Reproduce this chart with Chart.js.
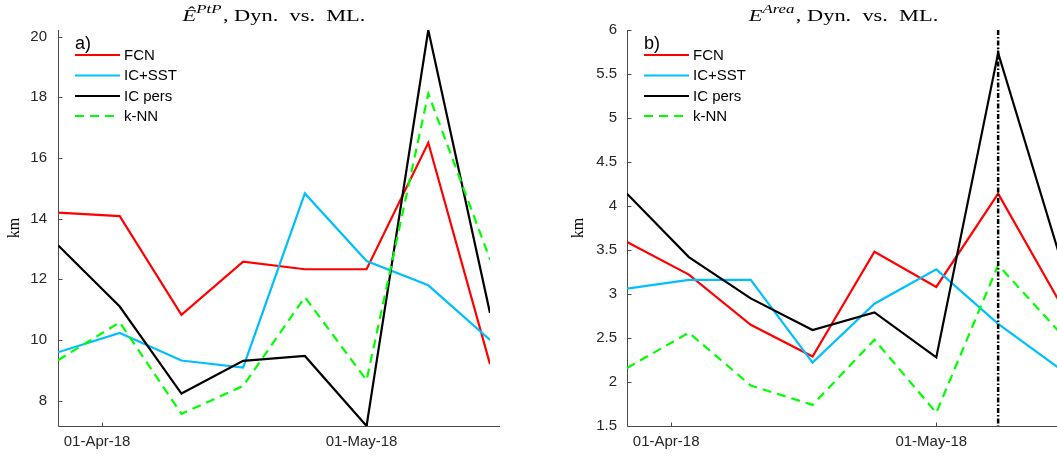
<!DOCTYPE html>
<html><head><meta charset="utf-8">
<script src="https://cdn.jsdelivr.net/npm/chart.js@4.4.1/dist/chart.umd.min.js"></script>
<style>
html,body{margin:0;padding:0;width:1057px;height:457px;overflow:hidden;background:#fff;}
#wrap{position:relative;width:1057px;height:457px;overflow:hidden;}
canvas{position:absolute;top:0;}
#ca{left:0}
#cb{left:537px}
</style></head><body>
<div id="wrap"><canvas id="ca" width="520" height="457"></canvas><canvas id="cb" width="530" height="457"></canvas></div>
<script>
// ---- data ----
const dates = ['2018-03-27','2018-04-03','2018-04-10','2018-04-17','2018-04-24','2018-05-01','2018-05-08','2018-05-15'];
const xTickDates = ['2018-04-01','2018-05-01'];
const xTickLabels = ['01-Apr-18','01-May-18'];
const seriesNames = ['FCN','IC+SST','IC pers','k-NN'];
const ptpFCN    = [14.20,14.08,10.83,12.58,12.33,12.33,16.50,9.20];
const ptpICSST  = [9.59,10.23,9.32,9.09,14.83,12.60,11.80,10.00];
const ptpICpers = [13.12,11.10,8.23,9.31,9.47,7.16,20.22,10.89];
const ptpKNN    = [9.33,10.58,7.56,8.48,11.41,8.67,18.12,12.65];
const areaFCN    = [3.59,3.22,2.65,2.29,3.48,3.08,4.14,2.90];
const areaICSST  = [3.06,3.16,3.16,2.22,2.89,3.28,2.66,2.15];
const areaICpers = [4.14,3.42,2.95,2.59,2.79,2.28,5.74,3.42];
const areaKNN    = [2.16,2.56,1.96,1.74,2.48,1.65,3.33,2.56];
const yTicksA = [8,10,12,14,16,18,20];
const yTicksB = [1.5,2,2.5,3,3.5,4,4.5,5,5.5,6];
const vlineDate = '2018-05-08';

// ---- styling ----
const colors = ['#ff0000','#00bfff','#000000','#00ff00'];
const dashes = [[],[],[],[9,6]];
const AX = '#262626';
const SANS = '"Liberation Sans", Arial, sans-serif';
const SERIF = '"Liberation Serif", "Times New Roman", serif';

const day0 = Date.parse(dates[0]);
const dayOf = s => (Date.parse(s) - day0) / 86400000;
const xDays = dates.map(dayOf);
const xTickDays = xTickDates.map(dayOf);

function mkDatasets(arrs){
  return arrs.map((a,i)=>({
    label: seriesNames[i],
    data: a.map((v,j)=>({x:xDays[j], y:v})),
    borderColor: colors[i], backgroundColor: colors[i],
    borderWidth: 2.2, borderDash: dashes[i], pointRadius: 0, tension: 0,
    order: 4 - i, fill:false
  }));
}

const decorPlugin = {
  id: 'decor',
  beforeDatasetsDraw(chart, args, o){
    const {ctx, chartArea: ca, scales:{x,y}} = chart;
    ctx.save();
    ctx.strokeStyle = '#4a4a4a'; ctx.lineWidth = 1;
    ctx.beginPath();
    const L = Math.round(ca.left)+0.5, B = Math.round(ca.bottom)+0.5;
    ctx.moveTo(L, ca.top); ctx.lineTo(L, B); ctx.lineTo(ca.right+10, B);
    y.ticks.forEach(t=>{ const py = Math.round(y.getPixelForValue(t.value))+0.5; ctx.moveTo(L, py); ctx.lineTo(L+4, py); });
    x.ticks.forEach(t=>{ const px = Math.round(x.getPixelForValue(t.value))+0.5; ctx.moveTo(px, B); ctx.lineTo(px, B-4); });
    ctx.stroke();
    ctx.restore();
  },
  afterDatasetsDraw(chart, args, o){
    const {ctx, chartArea: ca, scales:{x}} = chart;
    if (o.vline != null){
      const px = x.getPixelForValue(o.vline);
      ctx.save();
      ctx.strokeStyle = '#000'; ctx.lineWidth = 2.5; ctx.setLineDash([5,2,1.5,2]);
      ctx.beginPath(); ctx.moveTo(px, ca.top); ctx.lineTo(px, ca.bottom); ctx.stroke();
      ctx.restore();
    }
  },
  afterDraw(chart, args, o){
    const {ctx, chartArea: ca} = chart;
    ctx.save();
    // title (horizontally stretched serif to mimic the LaTeX rendering)
    const parts = o.title;
    const SX = 1.4;
    const fontFor = p => (p.italic?'italic ':'') + (p.sup? '12px ':'16px ') + SERIF;
    let w = 0;
    parts.forEach(p=>{ ctx.font = fontFor(p); p.w = ctx.measureText(p.t).width + (p.pad||0); w += p.w; });
    const cxc = (ca.left + ca.right)/2;
    ctx.save();
    ctx.translate(cxc, 0); ctx.scale(SX, 1);
    let cx = -w/2;
    ctx.fillStyle = '#000'; ctx.textBaseline = 'alphabetic'; ctx.textAlign = 'left';
    parts.forEach(p=>{ ctx.font = fontFor(p); ctx.fillText(p.t, cx, p.sup ? 13 : 21); cx += p.w; });
    ctx.restore();
    // y label
    ctx.save();
    ctx.translate(ca.left - o.ylabelOff, (ca.top+ca.bottom)/2);
    ctx.rotate(-Math.PI/2);
    ctx.font = '16px ' + SERIF; ctx.textAlign = 'center'; ctx.textBaseline = 'middle'; ctx.fillStyle = '#000';
    ctx.fillText('km', 0, 0);
    ctx.restore();
    // panel label
    ctx.font = '18px ' + SANS; ctx.textAlign = 'left'; ctx.textBaseline = 'middle'; ctx.fillStyle = '#000';
    ctx.fillText(o.panel, ca.left + 17, ca.top + 14);
    // legend
    const rows = [25, 45.5, 66, 86];
    chart.data.datasets.forEach((ds,i)=>{
      const yy = ca.top + rows[i];
      const x0 = ca.left + 17;
      ctx.strokeStyle = ds.borderColor; ctx.lineWidth = ds.borderWidth; ctx.setLineDash(ds.borderDash||[]);
      ctx.beginPath(); ctx.moveTo(x0, yy); ctx.lineTo(x0+45, yy); ctx.stroke();
      ctx.setLineDash([]);
      ctx.font = '15px ' + SANS; ctx.fillStyle = '#000'; ctx.textBaseline = 'middle';
      ctx.fillText(ds.label, x0 + 49, yy + 0.5);
    });
    ctx.restore();
  }
};

function makeChart(id, arrs, yTicks, ymin, ymax, yAxisW, padRight, tickPad, decor){
  return new Chart(document.getElementById(id), {
    type: 'line',
    data: { datasets: mkDatasets(arrs) },
    plugins: [decorPlugin],
    options: {
      responsive: false, animation: false, devicePixelRatio: 1,
      layout: { padding: { left: 0, right: padRight, top: 30, bottom: 0 } },
      plugins: { legend: {display:false}, tooltip: {enabled:false}, title:{display:false}, decor: decor },
      scales: {
        x: {
          type: 'linear', min: xDays[0], max: xDays[xDays.length-1],
          grid: { display:false, drawTicks:false }, border: { display:false },
          afterBuildTicks: ax => { ax.ticks = xTickDays.map(v=>({value:v})); },
          afterFit: ax => { ax.height = 31; },
          ticks: { padding: 7, labelOffset: -5, maxRotation: 0, autoSkip:false, color: AX,
            font: { family: SANS, size: 15 },
            callback: v => { const k = xTickDays.indexOf(v); return k >= 0 ? xTickLabels[k] : ''; } }
        },
        y: {
          min: ymin, max: ymax,
          grid: { display:false, drawTicks:false }, border: { display:false },
          afterBuildTicks: ax => { ax.ticks = yTicks.map(v=>({value:v})); },
          afterFit: ax => { ax.width = yAxisW; },
          ticks: { padding: tickPad, color: AX, font: { family: SANS, size: 15 }, callback: v => String(v) }
        }
      }
    }
  });
}

const allPtp = [].concat(ptpFCN, ptpICSST, ptpICpers, ptpKNN);
makeChart('ca', [ptpFCN, ptpICSST, ptpICpers, ptpKNN], yTicksA,
  Math.min(...allPtp), Math.max(...allPtp), 58, 30, 11,
  { panel: 'a)', ylabelOff: 43, vline: null,
    title: [ {t:'Ê', italic:true}, {t:'PtP', italic:true, sup:true, pad:1}, {t:', Dyn.  vs.  ML.'} ] });
makeChart('cb', [areaFCN, areaICSST, areaICpers, areaKNN], yTicksB,
  yTicksB[0], yTicksB[yTicksB.length-1], 90, 7, 10,
  { panel: 'b)', ylabelOff: 48.5, vline: dayOf(vlineDate),
    title: [ {t:'E', italic:true}, {t:'Area', italic:true, sup:true, pad:1}, {t:', Dyn.  vs.  ML.'} ] });
</script>
</body></html>
